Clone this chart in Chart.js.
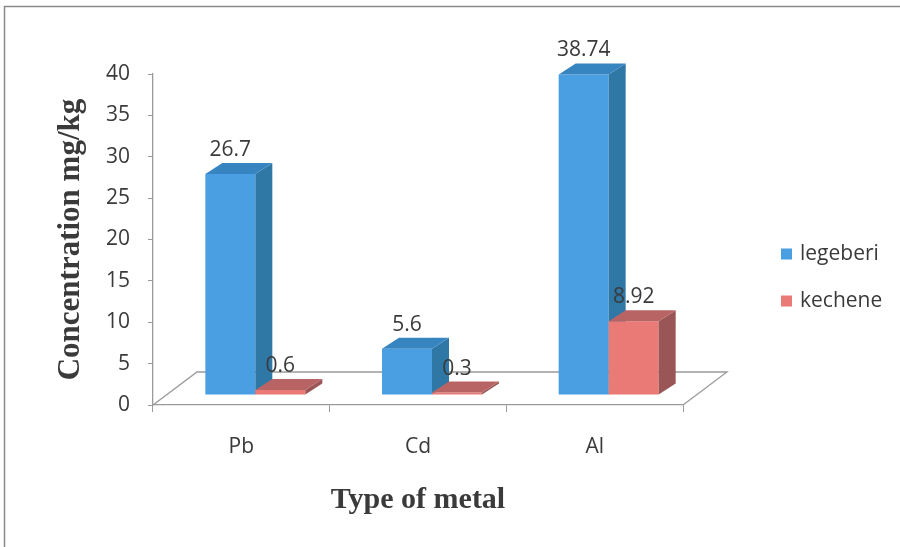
<!DOCTYPE html>
<html>
<head>
<meta charset="utf-8">
<title>Metal concentration</title>
<script src="https://cdn.jsdelivr.net/npm/chart.js@4.4.1/dist/chart.umd.min.js"></script>
<style>
  html, body { margin: 0; padding: 0; background: #ffffff; }
  #wrap { width: 900px; height: 547px; }
</style>
</head>
<body>
<div id="wrap"><canvas id="chart" width="900" height="547"></canvas></div>
<script>
// ---- data ----
const categories = ['Pb', 'Cd', 'Al'];
const legeberi = [26.7, 5.6, 38.74];
const kechene = [0.6, 0.3, 8.92];
const seriesNames = ['legeberi', 'kechene'];
const yTickMin = 0;
const yTickMax = 40;
const yTickStep = 5;

// ---- look ----
const SANS = "'Open Sans', 'Liberation Sans', sans-serif";
const SERIF = "'Liberation Serif', 'DejaVu Serif', serif";
const TEXT = '#3a3a3a';
const AXIS = '#9a9a9a';
const faces = [
  { front: '#4a9ee2', side: '#2f78a6', top: '#3785c0' },
  { front: '#ea7a76', side: '#9a5656', top: '#b86464' }
];
const BAR_SHIFT = { x: 14, y: -10 };   // bars stand mid-way into the floor
const BAR_DEPTH = { x: 17, y: -11 };   // depth of each column
const FLOOR_DEPTH = { x: 44, y: -33 }; // depth of the floor plane

// white page with a thin frame
const framePlugin = {
  id: 'frame',
  beforeDraw(chart) {
    const ctx = chart.ctx;
    ctx.save();
    ctx.fillStyle = '#ffffff';
    ctx.fillRect(0, 0, chart.width, chart.height);
    ctx.strokeStyle = '#8a8a8a';
    ctx.lineWidth = 1.5;
    ctx.beginPath();
    ctx.moveTo(4.5, chart.height);
    ctx.lineTo(4.5, 6.5);
    ctx.lineTo(chart.width, 6.5);
    ctx.stroke();
    ctx.restore();
  }
};

// floor plane, 3-D columns and value labels
const columnsPlugin = {
  id: 'columns3d',
  beforeDatasetsDraw(chart) {
    const ctx = chart.ctx;
    const xs = chart.scales.x, ys = chart.scales.y;
    const base = ys.getPixelForValue(0);
    ctx.save();
    ctx.strokeStyle = AXIS;
    ctx.lineWidth = 1.3;
    ctx.beginPath();
    ctx.moveTo(xs.left, base);
    ctx.lineTo(xs.left + FLOOR_DEPTH.x, base + FLOOR_DEPTH.y);
    ctx.lineTo(xs.right + FLOOR_DEPTH.x, base + FLOOR_DEPTH.y);
    ctx.lineTo(xs.right, base);
    ctx.stroke();
    ctx.restore();
  },
  beforeDatasetDraw() {
    // columns are painted together below so that each one overlaps the previous
    return false;
  },
  afterDatasetsDraw(chart) {
    const ctx = chart.ctx;
    ctx.save();
    ctx.translate(BAR_SHIFT.x, BAR_SHIFT.y);
    const n = chart.data.labels.length;
    for (let i = 0; i < n; i++) {
      chart.data.datasets.forEach((ds, d) => {
        const meta = chart.getDatasetMeta(d);
        const el = meta.data[i];
        const p = el.getProps(['x', 'y', 'base', 'width'], true);
        const x0 = p.x - p.width / 2, x1 = p.x + p.width / 2;
        const top = Math.min(p.y, p.base), bot = Math.max(p.y, p.base);
        const c = faces[d];
        el.draw(ctx);
        // side face
        ctx.fillStyle = c.side;
        ctx.beginPath();
        ctx.moveTo(x1, top);
        ctx.lineTo(x1 + BAR_DEPTH.x, top + BAR_DEPTH.y);
        ctx.lineTo(x1 + BAR_DEPTH.x, bot + BAR_DEPTH.y);
        ctx.lineTo(x1, bot);
        ctx.closePath();
        ctx.fill();
        // top face
        ctx.fillStyle = c.top;
        ctx.beginPath();
        ctx.moveTo(x0, top);
        ctx.lineTo(x0 + BAR_DEPTH.x, top + BAR_DEPTH.y);
        ctx.lineTo(x1 + BAR_DEPTH.x, top + BAR_DEPTH.y);
        ctx.lineTo(x1, top);
        ctx.closePath();
        ctx.fill();
      });
    }
    // value labels
    ctx.fillStyle = TEXT;
    ctx.font = '21px ' + SANS;
    ctx.textAlign = 'center';
    ctx.textBaseline = 'middle';
    chart.data.datasets.forEach((ds, d) => {
      chart.getDatasetMeta(d).data.forEach((el, i) => {
        const p = el.getProps(['x', 'y'], true);
        ctx.fillText(String(ds.data[i]), p.x, p.y - 24);
      });
    });
    ctx.restore();
  }
};

// legend to the right of the plot
const sideLegendPlugin = {
  id: 'sideLegend',
  afterDraw(chart) {
    const ctx = chart.ctx;
    ctx.save();
    ctx.font = '21px ' + SANS;
    ctx.textAlign = 'left';
    ctx.textBaseline = 'middle';
    chart.data.datasets.forEach((ds, d) => {
      const cy = 254 + d * 47;
      ctx.fillStyle = ds.backgroundColor;
      ctx.fillRect(781, cy - 5.5, 11, 11);
      ctx.fillStyle = TEXT;
      ctx.fillText(ds.label, 800, cy);
    });
    ctx.restore();
  }
};

new Chart(document.getElementById('chart'), {
  type: 'bar',
  data: {
    labels: categories,
    datasets: [
      { label: seriesNames[0], data: legeberi, backgroundColor: faces[0].front },
      { label: seriesNames[1], data: kechene, backgroundColor: faces[1].front }
    ]
  },
  options: {
    responsive: false,
    animation: false,
    devicePixelRatio: 1,
    layout: { padding: { left: 0, right: 217, top: 74, bottom: 0 } },
    datasets: { bar: { categoryPercentage: 0.566, barPercentage: 1.0, borderWidth: 0 } },
    plugins: { legend: { display: false }, tooltip: { enabled: false } },
    scales: {
      x: {
        grid: { drawOnChartArea: false, drawTicks: true, tickLength: 7, color: AXIS, offset: true },
        border: { display: true, color: AXIS, width: 1.3 },
        ticks: { color: TEXT, font: { family: SANS, size: 21 }, padding: 22 },
        title: {
          display: true, text: 'Type of metal', color: TEXT,
          font: { family: SERIF, size: 30, weight: 'bold' },
          padding: { top: 29, bottom: 29 }
        },
        afterFit(scale) { scale.height = 142; }
      },
      y: {
        min: yTickMin, max: yTickMax,
        grid: { drawOnChartArea: false, drawTicks: true, tickLength: 5, color: AXIS },
        border: { display: true, color: AXIS, width: 1.3 },
        ticks: { stepSize: yTickStep, color: TEXT, font: { family: SANS, size: 21 }, padding: 18 },
        title: {
          display: true, text: 'Concentration mg/kg', color: TEXT,
          font: { family: SERIF, size: 31, weight: 'bold' },
          padding: { top: 52, bottom: 52 }
        },
        afterFit(scale) { scale.width = 153; }
      }
    }
  },
  plugins: [framePlugin, columnsPlugin, sideLegendPlugin]
});
</script>
</body>
</html>
